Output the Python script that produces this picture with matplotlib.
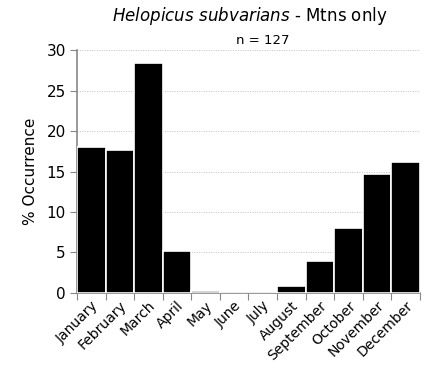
import numpy as np
import matplotlib.pyplot as plt

months = ["January", "February", "March", "April", "May", "June",
          "July", "August", "September", "October", "November", "December"]
occurrence = [18.0, 17.6, 28.4, 5.2, 0.2, 0.0, 0.0, 0.8, 3.9, 8.0, 14.7, 16.2]

plt.rcParams["mathtext.fontset"] = "dejavusans"

fig = plt.figure(figsize=(4.25, 3.77), dpi=100)
ax = fig.add_axes([0.181, 0.223, 0.807, 0.644])

x = np.arange(len(months))
ax.bar(x, occurrence, width=1.0, color="black", edgecolor="white",
       linewidth=1.2, zorder=3)

ax.set_xlim(-0.5, 11.5)
ax.set_ylim(0, 30)
ax.set_yticks([0, 5, 10, 15, 20, 25, 30])
ax.yaxis.grid(True, linestyle=(0, (1, 1.5)), color="#c0c0c0", linewidth=0.7, zorder=0)

# ticks between the bars on the x axis
ax.set_xticks(np.arange(-0.5, 12, 1.0))
ax.set_xticklabels([])
ax.set_xticks(x, minor=True)
ax.set_xticklabels(months, minor=True, rotation=45, ha="right",
                   rotation_mode="anchor", fontsize=10)
ax.tick_params(axis="x", which="minor", length=0, pad=4)
ax.tick_params(axis="x", which="major", length=5, color="#888888", direction="out")
ax.tick_params(axis="y", length=5, color="#888888", labelsize=11, pad=3)

for s in ["top", "right"]:
    ax.spines[s].set_visible(False)
for s in ["left", "bottom"]:
    ax.spines[s].set_color("#888888")
    ax.spines[s].set_linewidth(1.2)

ax.set_ylabel("% Occurrence", fontsize=11, labelpad=6)

fig.text(0.587, 0.958, r"$\it{Helopicus\ subvarians}$ - Mtns only",
         ha="center", va="center", fontsize=12)
fig.text(0.619, 0.893, "n = 127", ha="center", va="center", fontsize=9.5)

fig.savefig("out.png", dpi=100)
